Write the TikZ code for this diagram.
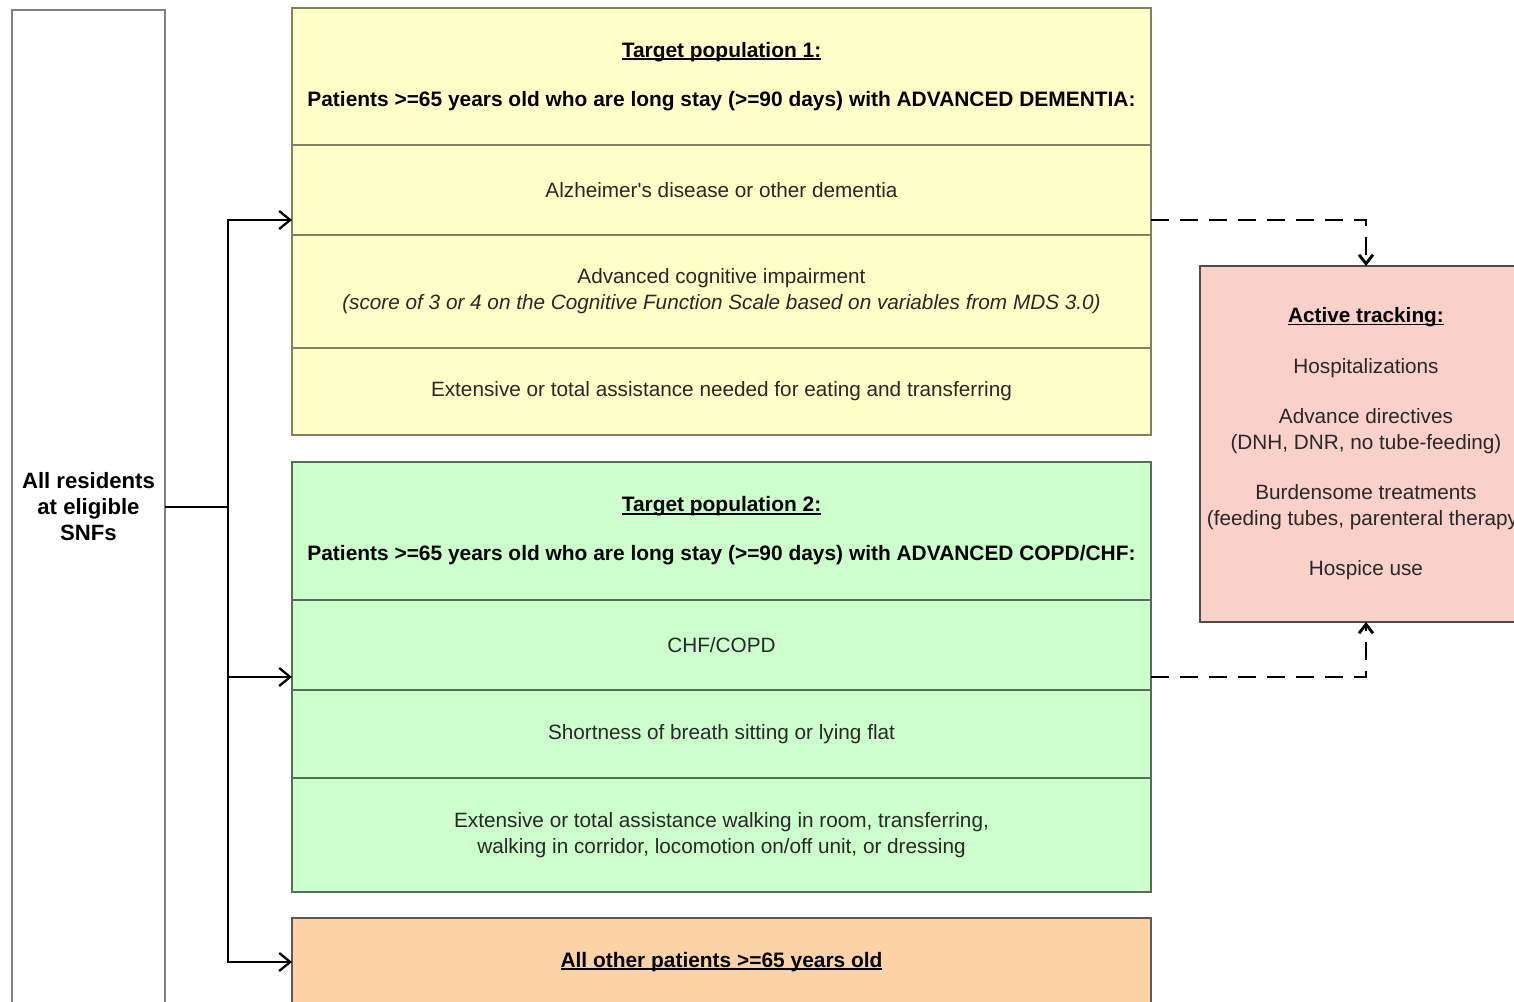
\documentclass[tikz,border=0pt]{standalone}
\usepackage{fontspec}
\setmainfont{Liberation Sans}
\usepackage{xcolor}
\usetikzlibrary{positioning, calc, arrows.meta}

\definecolor{popyellow}{RGB}{255,255,200}
\definecolor{popgreen}{RGB}{204,255,204}
\definecolor{poporange}{RGB}{252,210,166}
\definecolor{trackpink}{RGB}{250,208,203}
\definecolor{yellowline}{RGB}{128,128,100}
\definecolor{greenline}{RGB}{84,112,84}
\definecolor{boxgrey}{RGB}{128,128,128}
\definecolor{textgrey}{RGB}{40,40,40}

% underline close to the baseline
\newcommand{\popul}[1]{\setbox0\hbox{#1}\rlap{\rule[-0.75pt]{\wd0}{0.45pt}}\box0}

\begin{document}
\begin{tikzpicture}[
    every node/.style={font=\fontsize{5.9}{7.4}\selectfont, align=center,
        inner sep=0pt, outer sep=0pt, text=textgrey},
    popbox/.style={draw, minimum width=8.59cm, line width=0.45pt},
    yellowrow/.style={popbox, fill=popyellow, draw=yellowline},
    greenrow/.style={popbox, fill=popgreen, draw=greenline},
    headtext/.style={font=\bfseries\fontsize{5.95}{7.4}\selectfont, text=black},
    link/.style={line width=0.65pt, -{Straight Barb[length=1.1mm, width=1.8mm]}},
    tracklink/.style={line width=0.8pt, dash pattern=on 0.18cm off 0.11cm,
        -{Straight Barb[length=0.9mm, width=1.4mm]}}
]
    \useasboundingbox (0,0) rectangle (15.14,-10.02);
    \clip (0,0) rectangle (15.14,-10.02);

    % residents column on the left
    \node (all) [draw=boxgrey, line width=0.5pt, fill=white, anchor=north west,
        minimum width=1.53cm, minimum height=9.94cm, text=black,
        font=\bfseries\fontsize{6.3}{7.4}\selectfont] at (0.12,-0.10)
        {All residents\\at eligible\\SNFs};

    % target population 1
    \node (y1h) [yellowrow, anchor=north, minimum height=1.37cm, headtext] at (7.215,-0.08)
        {\popul{Target population 1:}\\[6.5pt]
        Patients >=65 years old who are long stay (>=90 days) with ADVANCED DEMENTIA:};
    \node (y1a) [yellowrow, minimum height=0.90cm, below=0pt of y1h]
        {Alzheimer\textquotesingle s disease or other dementia};
    \node (y1b) [yellowrow, minimum height=1.13cm, below=0pt of y1a]
        {Advanced cognitive impairment\\
        \itshape (score of 3 or 4 on the Cognitive Function Scale based on variables from MDS 3.0)};
    \node (y1c) [yellowrow, minimum height=0.87cm, below=0pt of y1b]
        {Extensive or total assistance needed for eating and transferring};

    % target population 2
    \node (g2h) [greenrow, anchor=north, minimum height=1.38cm, headtext] at (7.215,-4.62)
        {\popul{Target population 2:}\\[6.5pt]
        Patients >=65 years old who are long stay (>=90 days) with ADVANCED COPD/CHF:};
    \node (g2a) [greenrow, minimum height=0.90cm, below=0pt of g2h] {CHF/COPD};
    \node (g2b) [greenrow, minimum height=0.88cm, below=0pt of g2a]
        {Shortness of breath sitting or lying flat};
    \node (g2c) [greenrow, minimum height=1.14cm, below=0pt of g2b]
        {Extensive or total assistance walking in room, transferring,\\
        walking in corridor, locomotion on/off unit, or dressing};

    % everybody else
    \node (o3) [popbox, fill=poporange, draw=boxgrey!70!black, anchor=north,
        minimum height=0.88cm, headtext] at (7.215,-9.18)
        {\popul{All other patients >=65 years old}};

    % outcomes
    \node (track) [draw=boxgrey!60!black, line width=0.5pt, fill=trackpink, anchor=north west,
        minimum width=3.32cm, minimum height=3.56cm] at (12.00,-2.66)
        {{\bfseries\color{black}\popul{Active tracking:}}\\[6.9pt]
        Hospitalizations\\[6.9pt]
        Advance directives\\(DNH, DNR, no tube-feeding)\\[6.9pt]
        Burdensome treatments\\(feeding tubes, parenteral therapy)\\[6.9pt]
        Hospice use};

    \coordinate (split) at (2.28,-5.07);
    \draw[line width=0.65pt] (all.east |- split) -- (split);
    \draw[link] (split) |- ($(y1a.south west)+(0,0.15)$);
    \draw[link] (split) |- ($(g2a.south west)+(0,0.13)$);
    \draw[link] (split) |- (o3.west);

    \draw[tracklink] ($(y1a.south east)+(0,0.15)$) -| (track.north);
    \draw[tracklink] ($(g2a.south east)+(0,0.13)$) -| (track.south);
\end{tikzpicture}
\end{document}
